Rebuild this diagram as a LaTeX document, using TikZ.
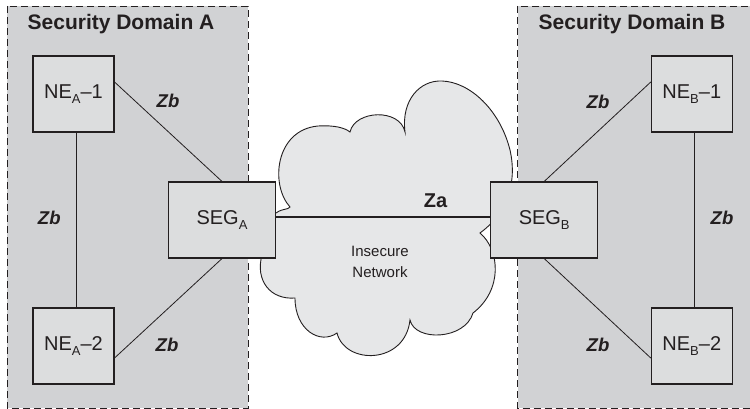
\documentclass[tikz,border=0pt]{standalone}
\usepackage{fontspec}
\setmainfont{Liberation Sans}
\definecolor{linec}{HTML}{231F20}
\definecolor{domfill}{HTML}{D1D2D4}
\definecolor{boxfill}{HTML}{DCDDDE}
\definecolor{cloudfill}{HTML}{E6E7E8}
\newcommand{\sbs}[1]{\raisebox{-4.5pt}{\fontsize{13}{13}\selectfont #1}}
\begin{document}
\begin{tikzpicture}[x=1pt,y=-1pt,
  secdom/.style={draw=linec, dash pattern=on 7pt off 4pt, fill=domfill, line width=0.9pt},
  box/.style={draw=linec, fill=boxfill, line width=1.1pt, inner sep=0pt, text=linec,
              font=\fontsize{20}{24}\selectfont},
  nebox/.style={box, minimum width=81pt, minimum height=76pt},
  segbox/.style={box, minimum width=107pt, minimum height=76pt},
  link/.style={draw=linec, line width=0.8pt},
  zline/.style={draw=linec, line width=1.8pt},
  zlab/.style={text=linec, inner sep=0pt, font=\fontsize{18.5}{20}\selectfont\bfseries\itshape},
  zalab/.style={text=linec, inner sep=0pt, font=\fontsize{20}{22}\selectfont\bfseries},
  titlelab/.style={text=linec, inner sep=0pt, font=\fontsize{21}{24}\selectfont\bfseries},
  netlab/.style={text=linec, inner sep=0pt, align=center, font=\fontsize{15}{21.7}\selectfont}
]
\useasboundingbox (0,0) rectangle (750,409);
\clip (0,0) rectangle (750,409);
% domains
\draw[secdom] (7,6) rectangle (248,408);
\draw[secdom] (517.7,6) rectangle (770,408);
\node[titlelab] (ta) at (121,24.5) {Security Domain A};
\node[titlelab] (tb) at (632,24.5) {Security Domain B};
% cloud
\filldraw[fill=cloudfill, draw=linec, line width=0.9pt]
  (270,213) -- (276,213)
  .. controls (283,208) and (288,210) .. (290,207)
  .. controls (270,185) and (275,130) .. (318,126)
  .. controls (335,125) and (345,128) .. (350,132)
  .. controls (355,110) and (400,108) .. (405,132)
  .. controls (401,100) and (420,80) .. (442,81)
  .. controls (470,82) and (500,110) .. (510,150)
  .. controls (518,185) and (505,215) .. (480,233)
  .. controls (500,250) and (503,290) .. (473,313)
  .. controls (465,340) and (415,342) .. (410,320)
  .. controls (405,365) and (345,365) .. (337,333)
  .. controls (320,345) and (295,330) .. (295,298)
  .. controls (270,300) and (255,280) .. (262,255)
  -- cycle;
\node[netlab] (net) at (380,262) {Insecure\\Network};
% boxes
\node[nebox] (nea1) at (73.5,94) {NE\sbs{A}--1};
\node[nebox] (nea2) at (73.5,346) {NE\sbs{A}--2};
\node[segbox] (sega) at (222,220) {SEG\sbs{A}};
\node[segbox] (segb) at (544.2,220) {SEG\sbs{B}};
\node[nebox] (neb1) at (691.8,94) {NE\sbs{B}--1};
\node[nebox] (neb2) at (691.8,346) {NE\sbs{B}--2};
% connectors
\draw[link] ([yshift=12pt]nea1.east) -- (sega.north);
\draw[link] ([yshift=-12pt]nea2.east) -- (sega.south);
\draw[link] ([xshift=3pt]nea1.south) -- ([xshift=3pt]nea2.north);
\draw[link] ([yshift=12pt]neb1.west) -- (segb.north);
\draw[link] ([yshift=-12pt]neb2.west) -- (segb.south);
\draw[link] ([xshift=3pt]neb1.south) -- ([xshift=3pt]neb2.north);
\draw[zline] ([yshift=3pt]sega.east) -- ([yshift=3pt]segb.west);
% labels
\node[zlab] (zb1) at (168,101) {Zb};
\node[zlab] (zb2) at (49.3,218) {Zb};
\node[zlab] (zb3) at (167,344.5) {Zb};
\node[zlab] (zb4) at (598,102) {Zb};
\node[zlab] (zb5) at (722,218) {Zb};
\node[zlab] (zb6) at (598,344.5) {Zb};
\node[zalab] (za) at (435.5,201) {Za};
\end{tikzpicture}
\end{document}
